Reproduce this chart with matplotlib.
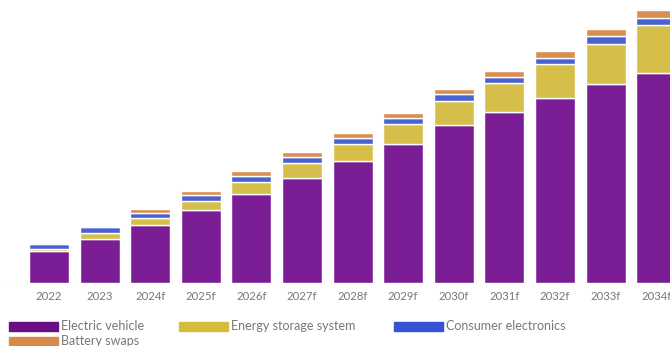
import matplotlib.pyplot as plt
from matplotlib.patches import Rectangle
import numpy as np

plt.rcParams['font.family'] = ['Lato', 'DejaVu Sans']

years = ["2022", "2023", "2024f", "2025f", "2026f", "2027f", "2028f",
         "2029f", "2030f", "2031f", "2032f", "2033f", "2034f"]

# demand by application (arbitrary units)
electric_vehicle = [32, 44.5, 58.5, 73.5, 89.5, 105, 122, 139, 158, 171, 185.5, 199, 210.5]
energy_storage = [2, 5.5, 6.5, 9, 11.5, 15, 17, 20, 24.3, 29, 33.3, 40, 47.3]
consumer_electronics = [5.5, 5.7, 5.5, 5.5, 6, 6.3, 5.7, 6.3, 6.4, 5.7, 6.7, 8, 7.7]
battery_swaps = [0.5, 1.3, 3.2, 4, 5, 5, 5.6, 5, 5.6, 6.6, 6.6, 6.7, 7.3]

series = [
    ("Electric vehicle", electric_vehicle, "#7B1E95", "#6A0F86"),
    ("Energy storage system", energy_storage, "#D5BF4A", "#D4BC3C"),
    ("Consumer electronics", consumer_electronics, "#4A62CE", "#3552D4"),
    ("Battery swaps", battery_swaps, "#D98F52", "#D98A48"),
]

W, H = 670, 346
fig = plt.figure(figsize=(W / 100, H / 100), dpi=100)
ax = fig.add_axes([0, (H - 283) / H, 1, 283 / H])

x = np.arange(len(years))
bottom = np.zeros(len(years))
for name, vals, color, _ in series:
    ax.bar(x, vals, width=0.79, bottom=bottom, color=color,
           edgecolor="white", linewidth=1.0)
    bottom += np.array(vals)

pitch = 50.6
ax.set_xlim(-49 / pitch, (W - 49) / pitch)
ax.set_ylim(0, 283)
ax.axhline(0, color="#e6e6e6", linewidth=0.8, zorder=0)
for s in ax.spines.values():
    s.set_visible(False)
ax.set_yticks([])
ax.set_xticks([])
ax.patch.set_alpha(0)

# category labels under the bars
for xi, lab in zip(x, years):
    xp = ax.transData.transform((xi, 0))[0] / W
    fig.text(xp, 1 - 297 / H, lab, ha="center", va="center",
             fontsize=8.2, color="#777777")

# legend laid out in two rows
legend_pos = [(9, 326), (179, 326), (394, 326), (9, 341)]
for (name, _, _, lcolor), (lx, ly) in zip(series, legend_pos):
    fig.patches.append(Rectangle((lx / W, 1 - (ly + 4.5) / H), 49 / W, 9 / H,
                                 transform=fig.transFigure, color=lcolor))
    fig.text((lx + 52) / W, 1 - ly / H, name, ha="left", va="center",
             fontsize=9, color="#777777")

fig.savefig("out.png", dpi=100)
